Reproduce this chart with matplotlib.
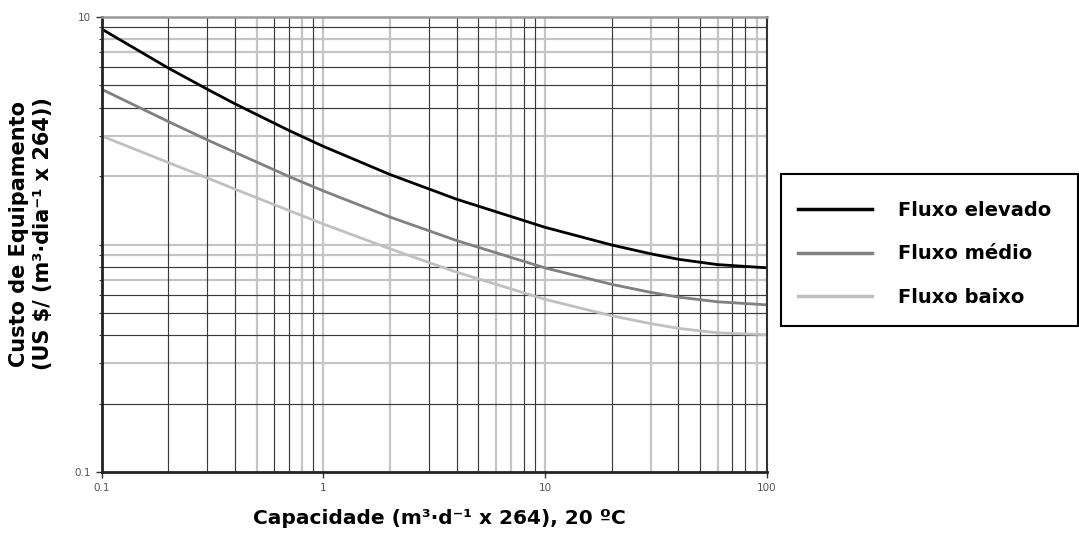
import numpy as np
import matplotlib
matplotlib.use('Agg')
import matplotlib.pyplot as plt
from matplotlib.patches import Rectangle

# capacidade (m3/d x 264) e custos
capacidade = [0.1, 0.2, 0.3, 0.4, 0.7, 1, 2, 4, 10, 20, 30, 40, 60, 100]
fluxo_elevado = [8.85, 5.96, 4.81, 4.15, 3.17, 2.70, 2.03, 1.58, 1.19, 0.995, 0.91, 0.861, 0.816, 0.79]
fluxo_medio = [4.81, 3.47, 2.88, 2.54, 1.99, 1.72, 1.32, 1.04, 0.789, 0.668, 0.616, 0.587, 0.560, 0.543]
fluxo_baixo = [3.0, 2.29, 1.96, 1.75, 1.41, 1.23, 0.957, 0.755, 0.574, 0.486, 0.449, 0.428, 0.409, 0.401]

series_labels = ['Fluxo elevado', 'Fluxo médio', 'Fluxo baixo']

# linhas de grade (papel log-log escaneado: umas pretas, outras cinza)
grid_x_black = [0.2, 0.3, 0.4, 0.6, 0.7, 0.9, 3, 4, 5, 8, 9, 20, 40, 50, 70, 80]
grid_x_gray = [0.5, 0.8, 1, 2, 6, 7, 10, 30, 60, 90]
grid_y_black = [9, 6, 5, 4, 0.8, 0.6, 0.5, 0.4, 0.2]
grid_y_gray = [8, 7, 3, 2, 1, 0.9, 0.7, 0.3]

x_ticks = [0.1, 1, 10, 100]
x_ticklabels = ['0.1', '1', '10', '100']
y_ticks = [0.1, 10]
y_ticklabels = ['0.1', '10']

fig = plt.figure(figsize=(10.79, 5.48), dpi=100)
ax = fig.add_axes([101.7/1079, 1 - 472/548, (766.7 - 101.7)/1079, (472 - 17)/548])
ax.set_xscale('log')
ax.set_yscale('log')
ax.set_xlim(0.1, 100)
ax.set_ylim(0.1, 10)

for v in grid_x_gray:
    ax.axvline(v, color='#c4c4c4', lw=1.6, zorder=1)
for v in grid_y_gray:
    ax.axhline(v, color='#c4c4c4', lw=1.6, zorder=1)
for v in grid_x_black:
    ax.axvline(v, color='#3a3a3a', lw=0.85, zorder=2)
for v in grid_y_black:
    ax.axhline(v, color='#3a3a3a', lw=0.85, zorder=2)

l1, = ax.plot(capacidade, fluxo_elevado, color='black', lw=2.0, zorder=5,
              solid_joinstyle='round')
l2, = ax.plot(capacidade, fluxo_medio, color='#808080', lw=2.0, zorder=4,
              solid_joinstyle='round')
l3, = ax.plot(capacidade, fluxo_baixo, color='#c0c0c0', lw=2.0, zorder=3,
              solid_joinstyle='round')

ax.set_xticks(x_ticks)
ax.set_xticklabels(x_ticklabels)
ax.set_yticks(y_ticks)
ax.set_yticklabels(y_ticklabels)
ax.xaxis.set_minor_locator(matplotlib.ticker.NullLocator())
ax.set_yticks(grid_y_black + grid_y_gray, minor=True)
ax.tick_params(axis='both', which='major', labelsize=7.5, labelcolor='#555555',
               length=4, width=1, color='#333333', pad=4)
ax.tick_params(axis='y', which='minor', length=2.5, width=0.8, color='#333333', labelleft=False)

for s in ['left', 'bottom']:
    ax.spines[s].set_linewidth(2.0)
    ax.spines[s].set_color('#222222')
ax.spines['top'].set_linewidth(1.8)
ax.spines['top'].set_color('#999999')
ax.spines['right'].set_linewidth(1.5)
ax.spines['right'].set_color('#333333')
for s in ax.spines.values():
    s.set_zorder(6)

fig.text(439/1079, 1 - 518/548, 'Capacidade (m³·d⁻¹ x 264), 20 ºC',
         ha='center', va='center', fontsize=14.5, fontweight='bold')
fig.text(31/1079, 1 - 234/548, 'Custo de Equipamento\n(US $/ (m³·dia⁻¹ x 264))',
         ha='center', va='center', rotation=90, fontsize=15, fontweight='bold',
         linespacing=1.2)

# caixa da legenda
fig.patches.append(Rectangle((781/1079, 1 - 325.5/548), (1077.5 - 781)/1079, (325.5 - 174)/548,
                             transform=fig.transFigure, fill=False, edgecolor='black', lw=1.5))
leg = fig.legend([l1, l2, l3], series_labels, loc='upper left',
                 bbox_to_anchor=(798/1079, 1 - 201/548), frameon=False,
                 prop={'size': 14, 'weight': 'bold'}, handlelength=3.8,
                 handletextpad=1.35, labelspacing=1.25, borderpad=0, borderaxespad=0)
for h in leg.get_lines():
    h.set_linewidth(2.5)

fig.savefig('out.png', dpi=100)
